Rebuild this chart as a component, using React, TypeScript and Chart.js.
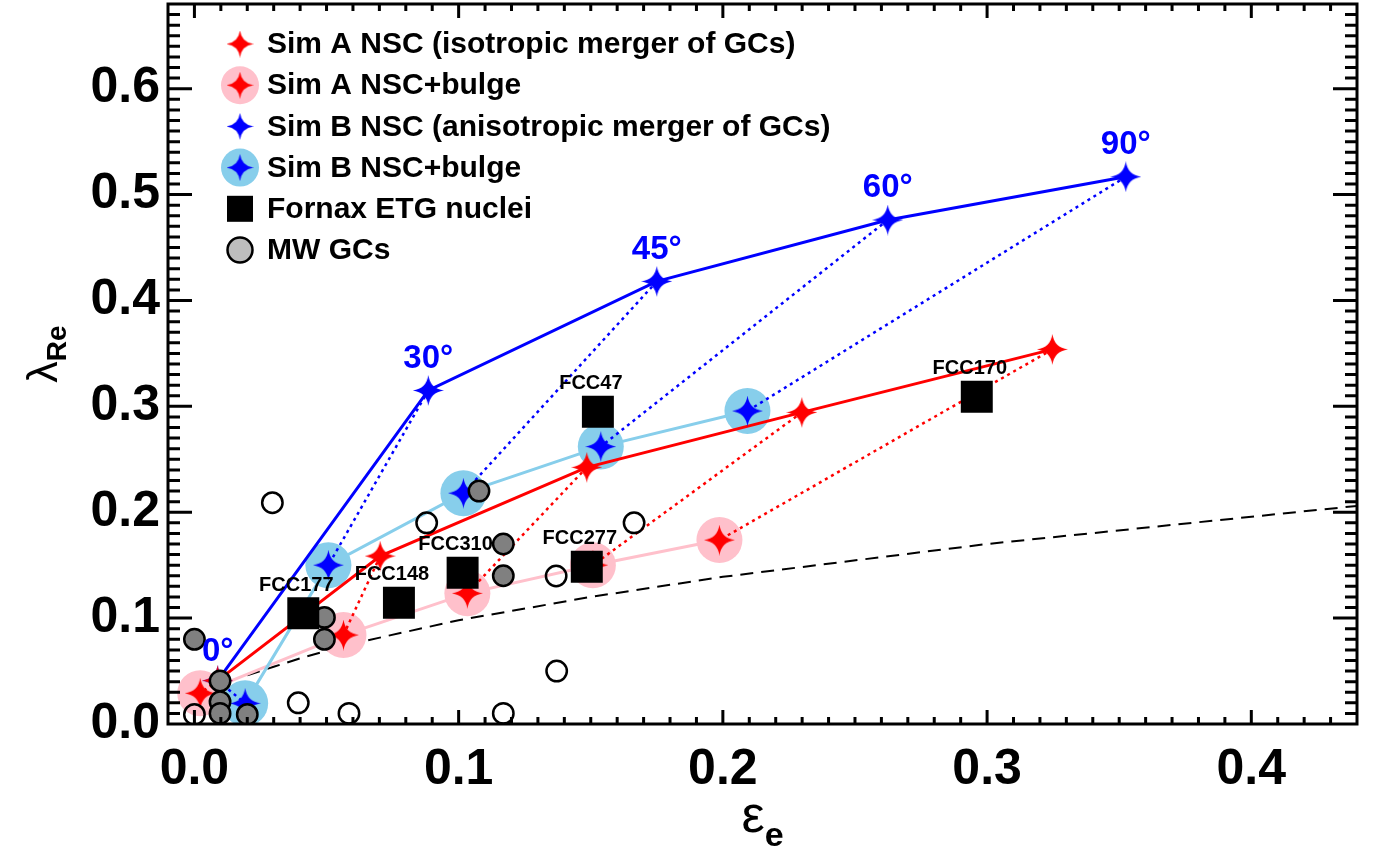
import { useEffect, useRef } from "react";
import { Chart, registerables } from "chart.js";
Chart.register(...registerables);

// ---------------- data ----------------
const simANscEps = [0.0088, 0.0703, 0.1485, 0.2299, 0.3247];
const simANscLam = [0.041, 0.1586, 0.2424, 0.2943, 0.3538];
const simABulgeEps = [0.0022, 0.0564, 0.1033, 0.1508, 0.1987];
const simABulgeLam = [0.029, 0.084, 0.1234, 0.15, 0.1737];
const simBNscEps = [0.0088, 0.0885, 0.175, 0.2624, 0.3525];
const simBNscLam = [0.041, 0.315, 0.418, 0.476, 0.5168];
const simBBulgeEps = [0.0192, 0.0507, 0.1018, 0.1538, 0.2093];
const simBBulgeLam = [0.0195, 0.15, 0.218, 0.262, 0.2956];
const angleLabels = ["0°", "30°", "45°", "60°", "90°"];

const fornaxNames = ["FCC177", "FCC148", "FCC310", "FCC47", "FCC277", "FCC170"];
const fornaxEps = [0.0412, 0.0774, 0.1015, 0.1527, 0.1485, 0.2961];
const fornaxLam = [0.1045, 0.1146, 0.1429, 0.295, 0.1486, 0.309];

const mwFilledEps = [0.0, 0.0097, 0.0097, 0.0097, 0.02, 0.0492, 0.0492, 0.1077, 0.1169, 0.1169];
const mwFilledLam = [0.08, 0.0406, 0.021, 0.01, 0.009, 0.1007, 0.08, 0.22, 0.17, 0.14];
const mwOpenEps = [0.0, 0.0295, 0.0393, 0.0585, 0.0879, 0.1169, 0.1369, 0.1371, 0.1664];
const mwOpenLam = [0.009, 0.209, 0.02, 0.01, 0.19, 0.01, 0.1398, 0.05, 0.19];

const thresholdEps = [0.02, 0.03, 0.04, 0.06, 0.1, 0.15, 0.2, 0.3, 0.44];
const thresholdLam = [0.046, 0.054, 0.062, 0.076, 0.098, 0.12, 0.139, 0.17, 0.206];

const xTickValues = [0.0, 0.1, 0.2, 0.3, 0.4];
const yTickValues = [0.0, 0.1, 0.2, 0.3, 0.4, 0.5, 0.6];

const legendLabels = [
  "Sim A NSC (isotropic merger of GCs)",
  "Sim A NSC+bulge",
  "Sim B NSC (anisotropic merger of GCs)",
  "Sim B NSC+bulge",
  "Fornax ETG nuclei",
  "MW GCs",
];

// ---------------- styles ----------------
const W = 1374;
const H = 857;
const FONT = "'Liberation Sans', Arial, Helvetica, sans-serif";
const RED = "#ff0000";
const BLUE = "#0000ff";
const PINK = "#ffc0cb";
const SKY = "#87ceeb";
const GRAY = "#808080";
const X_MIN = -0.01;
const X_MAX = 0.44;
const Y_MIN = 0;
const Y_MAX = 0.68;
const angleLabelDy = [-29, -32, -32, -32, -32];
const fccLabelDx = -7;
const fccLabelDy = -28;

function makeStar(size: number, color: string): HTMLCanvasElement {
  const c = document.createElement("canvas");
  c.width = size;
  c.height = size;
  const ctx = c.getContext("2d")!;
  const r = size / 2;
  const k = 0.12 * r;
  ctx.fillStyle = color;
  ctx.beginPath();
  ctx.moveTo(r, 0);
  ctx.quadraticCurveTo(r + k, r - k, size, r);
  ctx.quadraticCurveTo(r + k, r + k, r, size);
  ctx.quadraticCurveTo(r - k, r + k, 0, r);
  ctx.quadraticCurveTo(r - k, r - k, r, 0);
  ctx.closePath();
  ctx.fill();
  return c;
}

const zip = (xs: number[], ys: number[]) => xs.map((x, i) => ({ x, y: ys[i] }));

function pairSegments(ax: number[], ay: number[], bx: number[], by: number[]) {
  const out: any[] = [];
  ax.forEach((x, i) => {
    out.push({ x, y: ay[i] });
    out.push({ x: bx[i], y: by[i] });
    out.push({ x: bx[i], y: null });
  });
  return out;
}

const zeroPad = (s: any) => {
  s.paddingTop = 0;
  s.paddingBottom = 0;
  s.paddingLeft = 0;
  s.paddingRight = 0;
};

export default function App() {
  const ref = useRef<HTMLCanvasElement>(null);

  useEffect(() => {
    const canvas = ref.current!;
    const redStar = makeStar(31, RED);
    const blueStar = makeStar(31, BLUE);
    const redStarL = makeStar(27, RED);
    const blueStarL = makeStar(27, BLUE);

    const decor = {
      id: "decor",
      afterDatasetsDraw(chart: any) {
        const { ctx, scales } = chart;
        const x = scales.x;
        const y = scales.y;
        ctx.save();
        ctx.fillStyle = BLUE;
        ctx.font = `bold 33px ${FONT}`;
        ctx.textAlign = "center";
        ctx.textBaseline = "middle";
        angleLabels.forEach((t, i) => {
          const px = x.getPixelForValue(simBNscEps[i]);
          const py = y.getPixelForValue(simBNscLam[i]);
          ctx.fillText(t, px, py + angleLabelDy[i]);
        });
        ctx.fillStyle = "#000";
        ctx.font = `bold 20px ${FONT}`;
        fornaxNames.forEach((t, i) => {
          const px = x.getPixelForValue(fornaxEps[i]);
          const py = y.getPixelForValue(fornaxLam[i]);
          ctx.fillText(t, px + fccLabelDx, py + fccLabelDy);
        });
        ctx.restore();
      },
      afterDraw(chart: any) {
        const { ctx, chartArea, scales } = chart;
        const { left, right, top, bottom } = chartArea;
        const x = scales.x;
        const y = scales.y;
        ctx.save();
        ctx.strokeStyle = "#000";
        ctx.lineWidth = 3;
        ctx.lineCap = "butt";
        for (let i = -1; i <= 44; i++) {
          const px = x.getPixelForValue(i / 100);
          if (px < left + 1 || px > right - 1) continue;
          const len = i % 10 === 0 ? 14 : 7;
          ctx.beginPath();
          ctx.moveTo(px, bottom);
          ctx.lineTo(px, bottom - len);
          ctx.moveTo(px, top);
          ctx.lineTo(px, top + len);
          ctx.stroke();
        }
        for (let i = 0; i <= 68; i++) {
          const py = y.getPixelForValue(i / 100);
          if (py < top + 1 || py > bottom - 1) continue;
          const len = i % 10 === 0 ? 24 : 12;
          ctx.beginPath();
          ctx.moveTo(left, py);
          ctx.lineTo(left + len, py);
          ctx.moveTo(right, py);
          ctx.lineTo(right - len, py);
          ctx.stroke();
        }
        ctx.strokeRect(left, top, right - left, bottom - top);

        // axis titles
        ctx.fillStyle = "#000";
        ctx.textAlign = "left";
        ctx.textBaseline = "alphabetic";
        ctx.font = `52px ${FONT}`;
        const we = ctx.measureText("ε").width;
        ctx.font = `bold 34px ${FONT}`;
        const wsub = ctx.measureText("e").width;
        const cx = (left + right) / 2;
        const sx = cx - (we + wsub) / 2;
        ctx.font = `52px ${FONT}`;
        ctx.fillText("ε", sx, 832);
        ctx.font = `bold 34px ${FONT}`;
        ctx.fillText("e", sx + we, 846);

        ctx.translate(42, 354);
        ctx.rotate(-Math.PI / 2);
        ctx.font = `43px ${FONT}`;
        const wl = ctx.measureText("λ").width;
        ctx.font = `bold 28px ${FONT}`;
        const wr = ctx.measureText("Re").width;
        const st = -(wl + wr) / 2;
        ctx.font = `43px ${FONT}`;
        ctx.fillText("λ", st, 15);
        ctx.font = `bold 28px ${FONT}`;
        ctx.fillText("Re", st + wl, 24);
        ctx.setTransform(1, 0, 0, 1, 0, 0);

        // legend
        const sxL = 240;
        const txL = 267;
        legendLabels.forEach((t, i) => {
          const ry = 44 + 41.2 * i;
          if (i === 1 || i === 3) {
            ctx.fillStyle = i === 1 ? PINK : SKY;
            ctx.beginPath();
            ctx.arc(sxL, ry, 19, 0, Math.PI * 2);
            ctx.fill();
          }
          if (i <= 3) {
            const img = i < 2 ? redStarL : blueStarL;
            ctx.drawImage(img, sxL - img.width / 2, ry - img.height / 2);
          } else if (i === 4) {
            ctx.fillStyle = "#000";
            ctx.fillRect(sxL - 13, ry - 13, 26, 26);
          } else {
            ctx.fillStyle = "#bdbdbd";
            ctx.strokeStyle = "#000";
            ctx.lineWidth = 2.5;
            ctx.beginPath();
            ctx.arc(sxL, ry, 12.5, 0, Math.PI * 2);
            ctx.fill();
            ctx.stroke();
          }
          ctx.fillStyle = "#000";
          ctx.font = `bold 30px ${FONT}`;
          ctx.textAlign = "left";
          ctx.textBaseline = "middle";
          ctx.fillText(t, txL, ry + 1);
        });
        ctx.restore();
      },
    };

    const tickFont = { family: FONT, size: 50, weight: "bold" as const };

    const chart = new Chart(canvas, {
      type: "scatter",
      data: {
        datasets: [
          {
            label: "threshold",
            data: zip(thresholdEps, thresholdLam),
            showLine: true,
            borderColor: "#000",
            borderWidth: 2,
            borderDash: [13, 8],
            pointRadius: 0,
            order: 100,
          },
          {
            label: "Sim A NSC+bulge",
            data: zip(simABulgeEps, simABulgeLam),
            showLine: true,
            borderColor: PINK,
            borderWidth: 3,
            pointRadius: 23,
            pointBackgroundColor: PINK,
            pointBorderWidth: 0,
            order: 90,
          },
          {
            label: "Sim B NSC+bulge",
            data: zip(simBBulgeEps, simBBulgeLam),
            showLine: true,
            borderColor: SKY,
            borderWidth: 3,
            pointRadius: 23,
            pointBackgroundColor: SKY,
            pointBorderWidth: 0,
            order: 80,
          },
          {
            label: "red dotted",
            data: pairSegments(simANscEps, simANscLam, simABulgeEps, simABulgeLam),
            showLine: true,
            spanGaps: false,
            borderColor: RED,
            borderWidth: 2.5,
            borderDash: [3, 4],
            pointRadius: 0,
            order: 70,
          },
          {
            label: "blue dotted",
            data: pairSegments(simBNscEps, simBNscLam, simBBulgeEps, simBBulgeLam),
            showLine: true,
            spanGaps: false,
            borderColor: BLUE,
            borderWidth: 2.5,
            borderDash: [3, 4],
            pointRadius: 0,
            order: 70,
          },
          {
            label: "Sim A NSC line",
            data: zip(simANscEps, simANscLam),
            showLine: true,
            borderColor: RED,
            borderWidth: 3,
            pointRadius: 0,
            order: 60,
          },
          {
            label: "Sim B NSC line",
            data: zip(simBNscEps, simBNscLam),
            showLine: true,
            borderColor: BLUE,
            borderWidth: 3,
            pointRadius: 0,
            order: 60,
          },
          {
            label: "Sim A bulge stars",
            data: zip(simABulgeEps, simABulgeLam),
            pointStyle: redStar as any,
            order: 50,
          },
          {
            label: "Sim B bulge stars",
            data: zip(simBBulgeEps, simBBulgeLam),
            pointStyle: blueStar as any,
            order: 50,
          },
          {
            label: "Sim B NSC",
            data: zip(simBNscEps, simBNscLam),
            pointStyle: blueStar as any,
            order: 41,
          },
          {
            label: "Sim A NSC",
            data: zip(simANscEps, simANscLam),
            pointStyle: redStar as any,
            order: 40,
          },
          {
            label: "MW GCs open",
            data: zip(mwOpenEps, mwOpenLam),
            pointStyle: "circle",
            pointRadius: 10.2,
            pointBackgroundColor: "rgba(0,0,0,0)",
            pointBorderColor: "#000",
            pointBorderWidth: 2.5,
            order: 30,
          },
          {
            label: "MW GCs",
            data: zip(mwFilledEps, mwFilledLam),
            pointStyle: "circle",
            pointRadius: 10.2,
            pointBackgroundColor: GRAY,
            pointBorderColor: "#000",
            pointBorderWidth: 2.5,
            order: 29,
          },
          {
            label: "Fornax ETG nuclei",
            data: zip(fornaxEps, fornaxLam),
            pointStyle: "rect",
            pointRadius: 22.6,
            pointBackgroundColor: "#000",
            pointBorderWidth: 0,
            order: 20,
          },
        ],
      },
      options: {
        responsive: false,
        devicePixelRatio: 1,
        animation: false,
        events: [],
        layout: { autoPadding: false, padding: { left: 0, right: 17, top: 4, bottom: 0 } },
        plugins: { legend: { display: false }, tooltip: { enabled: false } },
        scales: {
          x: {
            type: "linear",
            min: X_MIN,
            max: X_MAX,
            afterFit: (s: any) => {
              s.height = 133;
              zeroPad(s);
            },
            afterBuildTicks: (s: any) => {
              s.ticks = xTickValues.map((v) => ({ value: v }));
            },
            grid: { display: false, drawTicks: false },
            border: { display: false },
            ticks: {
              font: tickFont,
              color: "#000",
              padding: 16,
              maxRotation: 0,
              autoSkip: false,
              callback: (v: any) => Number(v).toFixed(1),
            },
          },
          y: {
            type: "linear",
            min: Y_MIN,
            max: Y_MAX,
            afterFit: (s: any) => {
              s.width = 168;
              zeroPad(s);
            },
            afterBuildTicks: (s: any) => {
              s.ticks = yTickValues.map((v) => ({ value: v }));
            },
            grid: { display: false, drawTicks: false },
            border: { display: false },
            ticks: {
              font: tickFont,
              color: "#000",
              padding: 8,
              autoSkip: false,
              callback: (v: any) => Number(v).toFixed(1),
            },
          },
        },
      },
      plugins: [decor],
    } as any);
    return () => chart.destroy();
  }, []);

  return (
    <div style={{ position: "absolute", left: 0, top: 0, width: W, height: H, background: "#fff" }}>
      <canvas ref={ref} width={W} height={H} style={{ width: W, height: H, display: "block" }} />
    </div>
  );
}
